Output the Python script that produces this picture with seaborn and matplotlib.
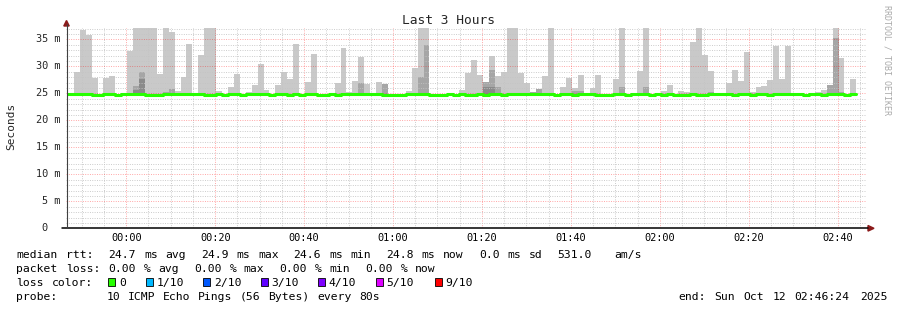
import re
import numpy as np
import pandas as pd
import matplotlib
matplotlib.use("Agg")
import matplotlib.pyplot as plt
import matplotlib.dates as mdates
import matplotlib.transforms as mtransforms
from matplotlib.lines import Line2D
from matplotlib.patches import Polygon, Rectangle
from matplotlib.ticker import MultipleLocator
import seaborn as sns

nan = np.nan

# ---------------- data ----------------
window_start = pd.Timestamp("2025-10-11 23:46:24")
window_end = pd.Timestamp("2025-10-12 02:46:24")
first_step = pd.Timestamp("2025-10-11 23:46:52")
step_seconds = 80

# top of the outer (lightest) smoke band per 80 s step, ms  (38 = clipped)
smoke_max = [
    nan, 28.98, 36.73, 35.83, 27.79, nan, 27.79, 28.19, nan, nan,
    32.86, 38, 38, 38, 38, 28.59, 38, 36.33, 25.41, 27.99,
    34.15, nan, 32.06, 38, 38, 25.51, nan, 26.21, 28.59, nan,
    25.21, 26.50, 30.47, 25.61, nan, 26.50, 28.98, 27.69, 34.05, nan,
    27.10, 32.26, nan, nan, nan, 26.90, 33.35, 25.21, 27.30, 31.76,
    26.70, nan, 27.10, 26.70, nan, nan, nan, 25.41, 29.68, 38,
    38, nan, nan, nan, nan, nan, 25.61, 28.79, 31.17, 28.39,
    27.15, 31.96, 28.19, 28.98, 38, 38, 28.79, 26.95, 25.21, 25.81,
    28.19, 38, nan, 26.16, 27.79, 26.01, 28.39, nan, 26.01, 28.39,
    nan, nan, 27.64, 38, nan, nan, 29.13, 38, nan, nan,
    25.41, 26.50, nan, 25.41, 25.21, 34.49, 38, 32.06, 29.13, nan,
    nan, 26.90, 29.28, 27.30, 32.66, 25.21, 26.16, 26.35, 27.50, 33.75,
    27.64, 33.75, nan, nan, nan, nan, 25.21, 25.61, 26.50, 38,
    31.56, nan, 27.59,
]

# top of the second smoke band
smoke_mid = [
    nan, nan, nan, nan, nan, nan, 25.11, 25.11, nan, nan,
    nan, 26.30, 28.98, nan, nan, nan, 25.31, 25.71, nan, nan,
    nan, nan, nan, nan, nan, nan, nan, nan, nan, nan,
    25.11, nan, nan, nan, nan, nan, nan, nan, nan, nan,
    nan, nan, nan, nan, nan, nan, nan, nan, nan, 27.00,
    nan, nan, 25.11, 26.70, nan, nan, nan, nan, nan, 28.09,
    33.95, nan, nan, nan, nan, nan, nan, nan, nan, nan,
    27.15, 29.28, 26.11, nan, nan, nan, nan, nan, 25.21, 25.81,
    nan, nan, nan, nan, nan, 25.41, 25.41, nan, nan, nan,
    nan, nan, nan, 26.11, nan, nan, 25.11, 26.11, nan, nan,
    nan, nan, nan, nan, nan, nan, nan, nan, 25.21, nan,
    nan, nan, nan, nan, nan, nan, nan, nan, nan, nan,
    nan, nan, nan, nan, nan, nan, nan, nan, 26.50, 35.24,
    25.21, nan, nan,
]

# top of the third (darker) smoke band
smoke_dark = [
    nan, nan, nan, nan, nan, nan, nan, nan, nan, nan,
    nan, 25.61, 27.64, nan, nan, nan, nan, nan, nan, nan,
    nan, nan, nan, nan, nan, nan, nan, nan, nan, nan,
    nan, nan, nan, nan, nan, nan, nan, nan, nan, nan,
    nan, nan, nan, nan, nan, nan, nan, nan, nan, nan,
    nan, nan, nan, nan, nan, nan, nan, nan, nan, nan,
    25.11, nan, nan, nan, nan, nan, nan, nan, nan, nan,
    26.11, 26.11, nan, nan, nan, nan, nan, nan, nan, nan,
    nan, nan, nan, nan, nan, nan, nan, nan, nan, nan,
    nan, nan, nan, nan, nan, nan, nan, nan, nan, nan,
    nan, nan, nan, nan, nan, nan, nan, nan, nan, nan,
    nan, nan, nan, nan, nan, nan, nan, nan, nan, nan,
    nan, nan, nan, nan, nan, nan, nan, nan, nan, nan,
    nan, nan, nan,
]

# median rtt per step, ms
median_rtt = [
    24.8, 24.9, 24.9, 24.8, 24.6, 24.6, 24.8, 24.8, 24.6, 24.8,
    24.8, 24.9, 24.9, 24.7, 24.7, 24.6, 24.8, 24.8, 24.8, 24.8,
    24.8, 24.8, 24.8, 24.6, 24.6, 24.8, 24.6, 24.8, 24.8, 24.6,
    24.8, 24.9, 24.9, 24.8, 24.7, 24.8, 24.8, 24.6, 24.8, 24.6,
    24.8, 24.8, 24.7, 24.7, 24.8, 24.6, 24.8, 24.8, 24.9, 24.8,
    24.8, 24.8, 24.8, 24.6, 24.6, 24.7, 24.6, 24.8, 24.9, 24.8,
    24.8, 24.6, 24.6, 24.6, 24.8, 24.6, 24.8, 24.6, 24.6, 24.8,
    24.6, 24.8, 24.8, 24.6, 24.8, 24.8, 24.9, 24.8, 24.8, 24.9,
    24.8, 24.8, 24.6, 24.8, 24.8, 24.6, 24.8, 24.8, 24.8, 24.6,
    24.6, 24.6, 24.8, 24.8, 24.6, 24.8, 24.8, 24.8, 24.6, 24.8,
    24.6, 24.8, 24.6, 24.6, 24.6, 24.8, 24.6, 24.6, 24.8, 24.8,
    24.8, 24.8, 24.6, 24.8, 24.8, 24.6, 24.8, 24.8, 24.6, 24.8,
    24.9, 24.8, 24.8, 24.8, 24.6, 24.8, 24.8, 24.6, 24.8, 24.8,
    24.8, 24.6, 24.8,
]

y_tick_values = [0, 5, 10, 15, 20, 25, 30, 35]
y_tick_labels = ["0", "5 m", "10 m", "15 m", "20 m", "25 m", "30 m", "35 m"]
title_text = "Last 3 Hours"
y_axis_label = "Seconds"
legend_line1 = "median rtt:  24.7 ms avg  24.9 ms max  24.6 ms min  24.8 ms now  0.0 ms sd  531.0   am/s"
legend_line2 = "packet loss: 0.00 % avg  0.00 % max  0.00 % min  0.00 % now"
legend_line3_head = "loss color:"
loss_labels = ["0", "1/10", "2/10", "3/10", "4/10", "5/10", "9/10"]
loss_colors = ["#26ff00", "#00b8ff", "#0059ff", "#5e00ff", "#7e00ff", "#dd00ff", "#ff0000"]
probe_head = "probe:"
probe_text = "10 ICMP Echo Pings (56 Bytes) every 80s"
end_text = "end: Sun Oct 12 02:46:24 2025"
side_text = "RRDTOOL / TOBI OETIKER"

assert len(smoke_max) == len(smoke_mid) == len(smoke_dark) == len(median_rtt)

# ---------------- style ----------------
sns.set_style("white")
MONO = ["DejaVu Sans Mono", "DejaVu Sans"]
plt.rcParams["font.family"] = MONO

W, H = 897, 310
fig = plt.figure(figsize=(W / 100, H / 100), dpi=100)
fig.patch.set_facecolor("white")


def fx(x):
    return x / W


def fy(y):
    return 1 - y / H


X0, X1, Y0, Y1 = 65.8, 866.1, 228.3, 28.0
ax = fig.add_axes([fx(X0), fy(Y0), (X1 - X0) / W, (Y0 - Y1) / H])
ax.set_facecolor("white")

n = len(median_rtt)
step_start = first_step + pd.to_timedelta(np.arange(n) * step_seconds, unit="s")
step_w = step_seconds / 86400.0
med = np.array(median_rtt, dtype=float)

layers = [(smoke_max, "#c9c9c9"), (smoke_mid, "#a6a6a6"), (smoke_dark, "#8a8a8a")]
for vals, col in layers:
    v = np.array(vals, dtype=float)
    m = ~np.isnan(v)
    ax.bar(step_start[m], (v - med)[m], bottom=med[m], width=step_w,
           align="edge", color=col, linewidth=0, zorder=1)

xs = list(step_start) + [step_start[-1] + pd.Timedelta(seconds=step_seconds)]
ys = list(med) + [med[-1]]
df = pd.DataFrame({"time": xs, "rtt": ys})
sns.lineplot(data=df, x="time", y="rtt", ax=ax, drawstyle="steps-post",
             color="#26ff00", linewidth=2.2, estimator=None, sort=False,
             legend=False, zorder=3)
ax.set_xlabel("")
ax.set_ylabel("")

ax.set_xlim(window_start, window_end)
ax.set_ylim(0, 37.1)
ax.xaxis.set_major_locator(mdates.MinuteLocator(byminute=[0, 20, 40]))
ax.xaxis.set_minor_locator(mdates.MinuteLocator(byminute=range(0, 60, 5)))
ax.xaxis.set_major_formatter(mdates.DateFormatter("%H:%M"))
ax.yaxis.set_major_locator(MultipleLocator(5))
ax.yaxis.set_minor_locator(MultipleLocator(1))
ax.tick_params(axis="both", which="both", length=0)
ax.tick_params(axis="y", labelleft=False)
ax.tick_params(axis="x", labelsize=7.4, pad=3.2, colors="black")

dots = (0, (1, 1.6))
ax.grid(which="minor", axis="both", color="#c4c4c4", linewidth=0.65, linestyle=dots)
ax.grid(which="major", axis="both", color="#ff0000", alpha=0.4, linewidth=0.65, linestyle=dots)
ax.set_axisbelow(False)
for s in ax.spines.values():
    s.set_visible(False)

# y tick labels
trans = mtransforms.blended_transform_factory(fig.transFigure, ax.transData)
for v, lab in zip(y_tick_values, y_tick_labels):
    xr = 60.5 if v else 47.5
    ax.text(fx(xr), v, lab, transform=trans, ha="right", va="center",
            fontsize=7.4, clip_on=False)

# axes lines and arrows
fig.add_artist(Line2D([fx(62), fx(868)], [fy(Y0), fy(Y0)], color="black", lw=1.1))
fig.add_artist(Line2D([fx(66.5), fx(66.5)], [fy(Y0), fy(24)], color="#404040", lw=0.8))
fig.add_artist(Polygon([(fx(63.8), fy(26)), (fx(69.2), fy(26)), (fx(66.5), fy(20.5))],
                       closed=True, color="#8b1a1a"))
fig.add_artist(Polygon([(fx(868), fy(Y0 - 2.8)), (fx(868), fy(Y0 + 2.8)), (fx(874), fy(Y0))],
                       closed=True, color="#8b1a1a"))

# titles
fig.text(0.5, fy(20), title_text, ha="center", va="center", fontsize=9.3)
fig.text(fx(11), fy(126.5), y_axis_label, rotation=90, ha="center", va="center", fontsize=8)
fig.text(fx(886.5), fy(5), side_text, rotation=270, ha="center", va="top",
         fontsize=6, color="#aaaaaa")


# legend
def put_words(x0, ybase, s, adv, size=8.2):
    for mt in re.finditer(r"\S+", s):
        fig.text(fx(x0 + mt.start() * adv), fy(ybase), mt.group(), fontsize=size,
                 ha="left", va="baseline", color="black")


put_words(16, 258.3, legend_line1, 7.12)
put_words(16, 272.0, legend_line2, 7.12)
put_words(16, 286.0, legend_line3_head, 7.12)
box_x = [108.3, 145.7, 203.3, 261.0, 318.3, 375.7, 435.0]
for bx, lab, col in zip(box_x, loss_labels, loss_colors):
    fig.add_artist(Rectangle((fx(bx), fy(286.0)), 6.8 / W, 7.7 / H, facecolor=col,
                             edgecolor="black", linewidth=0.6))
    put_words(bx + 10.5, 286.0, lab, 7.12)
put_words(16, 299.8, probe_head, 7.12)
put_words(107.0, 299.8, probe_text, 7.0)
put_words(678.0, 299.8, end_text, 7.28)

fig.savefig("out.png", dpi=100, facecolor="white")
